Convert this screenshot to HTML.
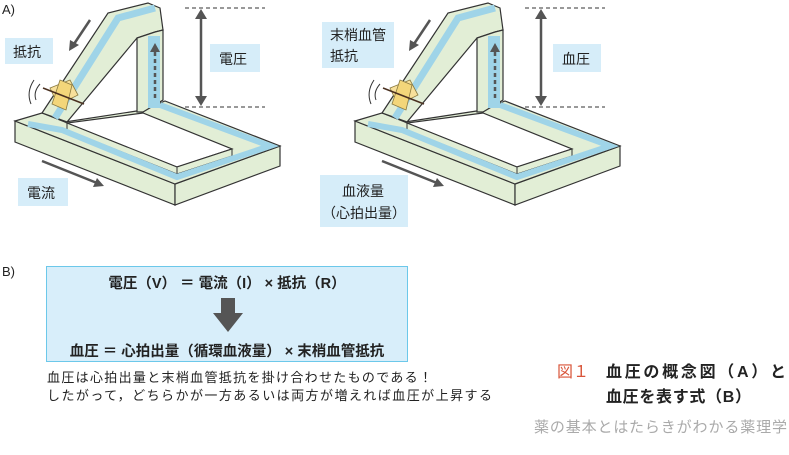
<!DOCTYPE html>
<html><head><meta charset="utf-8"><style>
body{margin:0;background:#fff;width:789px;height:450px;overflow:hidden;font-family:"Liberation Sans","Noto Sans CJK JP",sans-serif;}
</style></head><body>
<svg width="789" height="450" viewBox="0 0 789 450" xmlns="http://www.w3.org/2000/svg" style="font-family:'Liberation Sans','Noto Sans CJK JP',sans-serif">
<defs>
<g id="dg">
  <polygon points="15,121 175,184 175,205 15,142" fill="#e2eed6" stroke="#333" stroke-width="1.2"/>
  <polygon points="175,184 280,146 280,166 175,205" fill="#e2eed6" stroke="#333" stroke-width="1.2"/>
  <polygon points="15,121 42,113 65,122 143,110 165,101 280,146 175,184" fill="#e2eed6" stroke="#333" stroke-width="1.2"/>
  <polygon points="67,123 177,167 232,149 143,113" fill="#fff" stroke="#333" stroke-width="1.2"/>
  <polygon points="67,123 67,130 177,174 177,167" fill="#e2eed6" stroke="#333" stroke-width="1"/>
  <polygon points="177,167 177,174 232,156 232,149" fill="#e2eed6" stroke="#333" stroke-width="1"/>
  <polyline points="28,124 62,130 177,177 270,146 160,105" fill="none" stroke="#9fd4e8" stroke-width="6"/>
  <polygon points="42,113 108,13 148,3 160,8 163,30 155,32 137,38 67,122" fill="#e2eed6" stroke="#333" stroke-width="1.2"/>
  <polyline points="55,118 118,18 155,8" fill="none" stroke="#9fd4e8" stroke-width="7"/>
  <polygon points="137,38 155,32 163,30 163,100 143,112 137,112" fill="#e2eed6" stroke="#333" stroke-width="1.2"/>
  <rect x="148" y="36" width="12" height="72" fill="#9fd4e8"/>
  <polygon points="50,88 70,80 78,95 58,105" fill="#f7e09a" stroke="#8a7a40" stroke-width="0.8"/>
  <polygon points="60,80 72,85 66,110 52,104" fill="#f3d67a" stroke="#8a7a40" stroke-width="0.8"/>
  <line x1="43" y1="88" x2="84" y2="104" stroke="#4a3020" stroke-width="1.5"/>
  <path d="M40,84 Q33,92 36,100 M34,80 Q26,92 31,104" fill="none" stroke="#333" stroke-width="1"/>
  <line x1="155" y1="98" x2="155" y2="52" stroke="#555" stroke-width="2.5" stroke-dasharray="4,3"/>
  <polygon points="150,52 160,52 155,43" fill="#555"/>
  <line x1="90" y1="20" x2="74" y2="44" stroke="#555" stroke-width="2.5"/>
  <polygon points="69,51 70,40 79,45" fill="#555"/>
  <line x1="42" y1="161" x2="97" y2="183" stroke="#555" stroke-width="2.5"/>
  <polygon points="104,186 93,187 97,178" fill="#555"/>
  <line x1="185" y1="8" x2="265" y2="8" stroke="#333" stroke-dasharray="4,3"/>
  <line x1="185" y1="107" x2="265" y2="107" stroke="#333" stroke-dasharray="4,3"/>
  <line x1="201" y1="16" x2="201" y2="99" stroke="#555" stroke-width="2.5"/>
  <polygon points="195,19 207,19 201,9" fill="#555"/>
  <polygon points="195,96 207,96 201,106" fill="#555"/>
</g>
</defs>
<text x="2" y="14" font-size="13" fill="#222">A)</text>
<use href="#dg"/>
<use href="#dg" x="340"/>
<rect x="5" y="38" width="48" height="26" fill="#d6edf9"/>
<text x="13" y="57" font-size="14" fill="#222">抵抗</text>
<rect x="210" y="44" width="50" height="28" fill="#d6edf9"/>
<text x="219" y="64" font-size="14" fill="#222">電圧</text>
<rect x="18" y="178" width="50" height="28" fill="#d6edf9"/>
<text x="27" y="198" font-size="14" fill="#222">電流</text>
<rect x="322" y="22" width="72" height="46" fill="#d6edf9"/>
<text x="330" y="40" font-size="14" fill="#222">末梢血管</text>
<text x="330" y="61" font-size="14" fill="#222">抵抗</text>
<rect x="553" y="44" width="48" height="28" fill="#d6edf9"/>
<text x="562" y="64" font-size="14" fill="#222">血圧</text>
<rect x="320" y="175" width="88" height="52" fill="#d6edf9"/>
<text x="342" y="196" font-size="14" fill="#222">血液量</text>
<text x="322" y="218" font-size="14" fill="#222">（心拍出量）</text>

<text x="2" y="276" font-size="13" fill="#222">B)</text>
<rect x="46.5" y="266.5" width="361" height="95" fill="#d8eefa" stroke="#6cc8ea" stroke-width="1"/>
<text x="227" y="288" font-size="14.5" font-weight="bold" fill="#222" text-anchor="middle">電圧（V） ＝ 電流（I） × 抵抗（R）</text>
<polygon points="221,298 235,298 235,313 243,313 228,332 213,313 221,313" fill="#555"/>
<text x="227" y="356" font-size="14.5" font-weight="bold" fill="#222" text-anchor="middle">血圧 ＝ 心拍出量（循環血液量） × 末梢血管抵抗</text>
<text x="47" y="382" font-size="13" fill="#222" textLength="385">血圧は心拍出量と末梢血管抵抗を掛け合わせたものである！</text>
<text x="47" y="400" font-size="13" fill="#222" textLength="445">したがって，どちらかが一方あるいは両方が増えれば血圧が上昇する</text>

<text x="557" y="377" font-size="16" fill="#d9553a">図１</text>
<text x="606" y="377" font-size="16" font-weight="bold" fill="#222" textLength="180">血圧の概念図（A）と</text>
<text x="606" y="402" font-size="16" font-weight="bold" fill="#222" textLength="145">血圧を表す式（B）</text>
<text x="534" y="432" font-size="15" fill="#aaa" textLength="253">薬の基本とはたらきがわかる薬理学</text>
</svg>
</body></html>
